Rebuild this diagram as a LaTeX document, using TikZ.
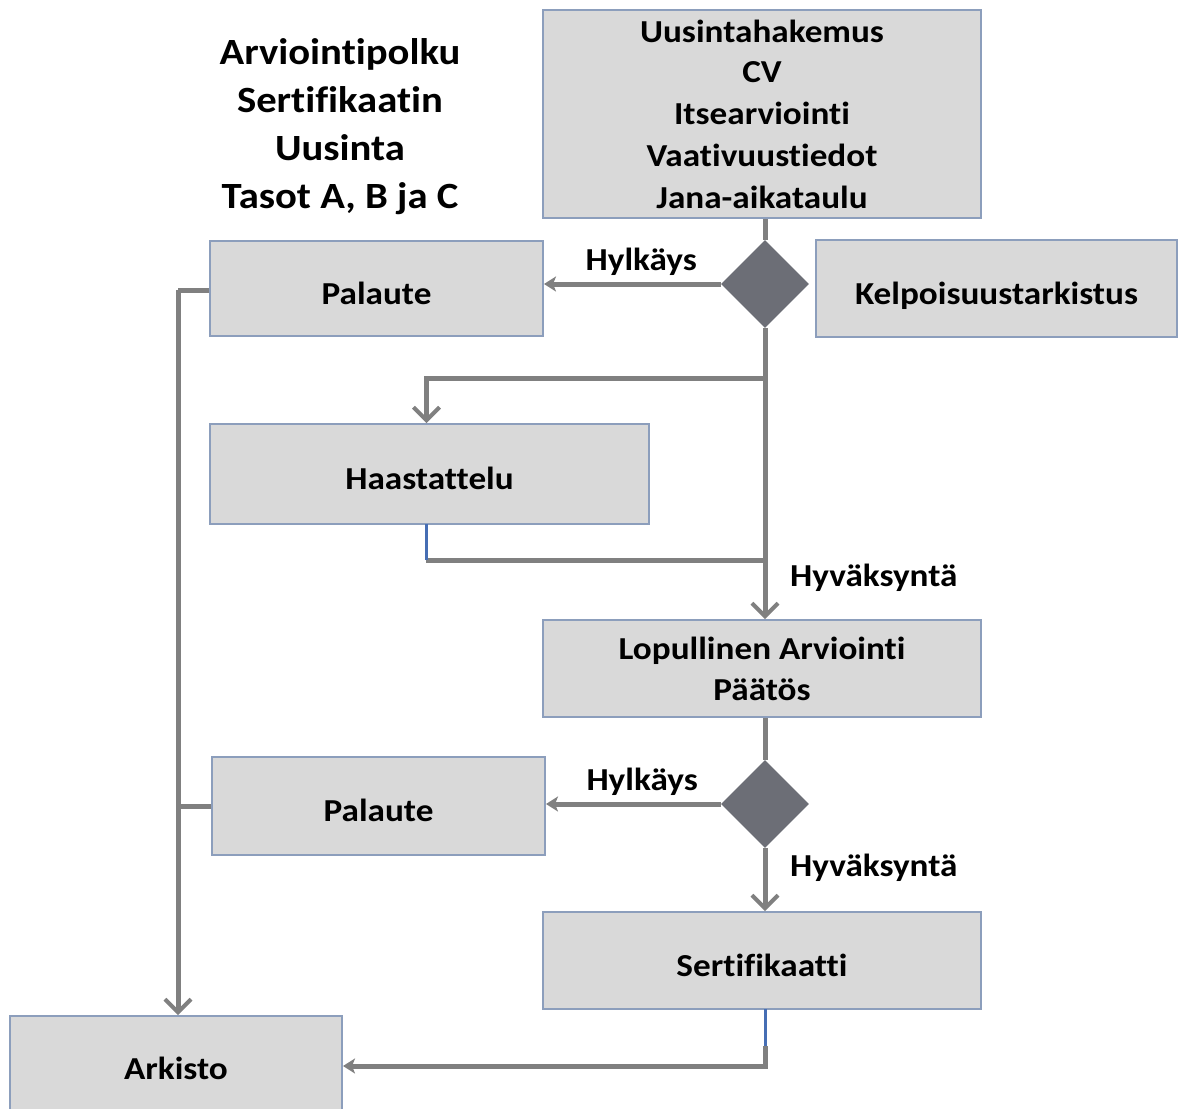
\documentclass[tikz,border=0pt]{standalone}
\usepackage{fontspec}
\setmainfont{Carlito}[FakeStretch=1.1,Ligatures=NoCommon]
\usetikzlibrary{arrows.meta,shapes.geometric,calc}
\definecolor{linegray}{RGB}{128,128,128}
\definecolor{boxfill}{RGB}{217,217,217}
\definecolor{boxedge}{RGB}{140,158,188}
\definecolor{diafill}{RGB}{108,110,118}
\definecolor{segblue}{RGB}{70,110,180}
\begin{document}
\begin{tikzpicture}[x=1pt,y=-1pt,
  box/.style={draw=boxedge,line width=2pt,fill=boxfill,inner sep=0pt,align=center,
    font=\fontsize{32}{42}\selectfont\bfseries},
  onel/.style={text height=31pt,text depth=0pt},
  dia/.style={diamond,fill=diafill,draw=none,inner sep=0pt,minimum width=88pt,minimum height=88pt},
  conn/.style={draw=linegray,line width=5pt},
  downarr/.style={conn,-{Straight Barb[length=13pt,width=26pt,line width=4pt]}},
  leftarr/.style={conn,-{Stealth[length=12pt,width=15pt,inset=3pt]}},
  lbl/.style={font=\fontsize{32}{36}\selectfont\bfseries,inner sep=0pt}]
\useasboundingbox (0,0) rectangle (1179,1109);
\begin{scope}
\clip (0,0) rectangle (1179,1109);
% title
\node[font=\fontsize{37}{48}\selectfont\bfseries,align=center] (title) at (340,127)
  {Arviointipolku\\Sertifikaatin\\Uusinta\\Tasot A, B ja C};
% boxes
\node[box,minimum width=438pt,minimum height=208pt] (top) at (762,114)
  {\raisebox{-2pt}{Uusintahakemus}\\CV\\Itsearviointi\\Vaativuustiedot\\Jana-aikataulu};
\node[box,onel,minimum width=333pt,minimum height=95pt] (pal1) at (376.5,288.5) {Palaute};
\node[box,onel,minimum width=361pt,minimum height=97pt] (kelp) at (996.5,288.5) {Kelpoisuustarkistus};
\node[box,onel,minimum width=439pt,minimum height=100pt] (haas) at (429.5,474) {Haastattelu};
\node[box,minimum width=438pt,minimum height=97pt] (lop) at (762,668.5) {\raisebox{-4pt}{Lopullinen Arviointi}\\\raisebox{-3pt}{Päätös}};
\node[box,onel,minimum width=333pt,minimum height=98pt] (pal2) at (378.5,806) {Palaute};
\node[box,onel,minimum width=438pt,minimum height=97pt] (sert) at (762,960.5) {Sertifikaatti};
\node[box,onel,minimum width=332pt,minimum height=96pt] (ark) at (176,1064) {Arkisto};
% diamonds
\node[dia] (d1) at (765,284) {};
\node[dia] (d2) at (765,804) {};
% helper coordinates
\coordinate (b1) at (765,378);
\coordinate (hb) at (426,524);
\coordinate (hj) at (426,560);
\coordinate (j1) at (765,560);
\coordinate (s1) at (765,1066);
\coordinate (s0) at (765,1009);
\coordinate (s2) at (765,1046);
\coordinate (lt) at (178,290);
\coordinate (l2) at (178,806);
% connectors
\draw[conn] (d1.north |- top.south) -- (d1.north);
\draw[leftarr] (d1.west) -- (pal1.east |- d1.west) node[lbl,pos=0.45,above=6pt] (h1) {Hylkäys};
\draw[downarr] (d1.south) -- (d1.south |- lop.north);
\draw[downarr] (b1) -| ($(haas.north)+(-3,0)$);
\draw[conn] (hj) -- (j1);
\draw[segblue,line width=3pt] (hb) -- (hj);
\node[lbl,anchor=west] (hy1) at (790,578) {Hyväksyntä};
\draw[conn] (d2.north |- lop.south) -- (d2.north);
\draw[leftarr] (d2.west) -- (pal2.east |- d2.west) node[lbl,pos=0.45,above=6pt] (h2) {Hylkäys};
\draw[downarr] (d2.south) -- (d2.south |- sert.north);
\node[lbl,anchor=west] (hy2) at (790,868) {Hyväksyntä};
\draw[leftarr] (s2) -- (s1) -- (ark.east |- s1);
\draw[segblue,line width=3pt] (s0) -- (s2);
\draw[conn] (pal1.west |- lt) -- (lt);
\draw[downarr] (lt) -- (lt |- ark.north);
\draw[conn] (pal2.west |- l2) -- (l2);
\end{scope}
\end{tikzpicture}
\end{document}
